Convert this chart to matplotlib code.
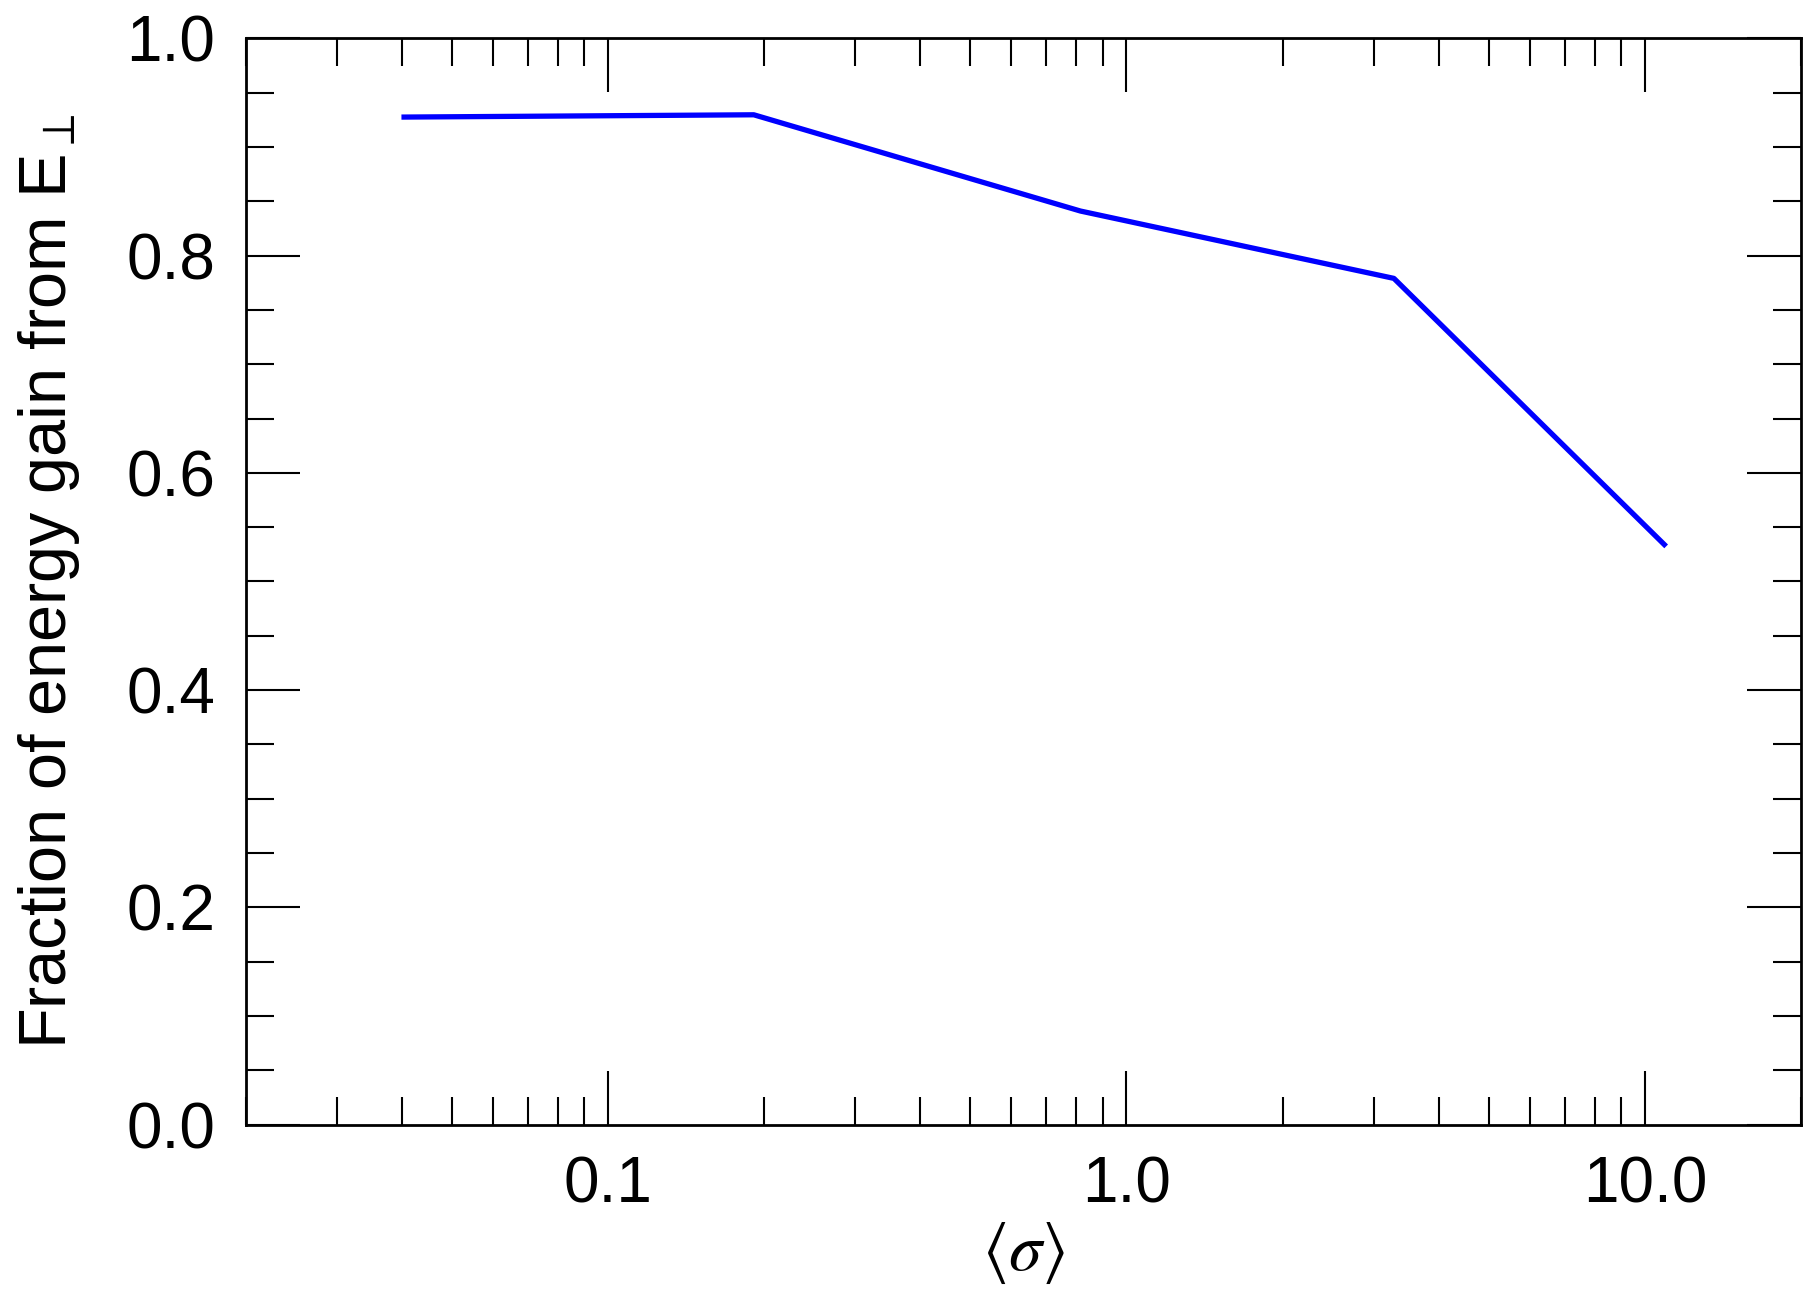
import matplotlib
matplotlib.use("Agg")
import matplotlib.pyplot as plt
from matplotlib.ticker import LogLocator, MultipleLocator, FixedLocator, FixedFormatter

# mean magnetization vs fraction of energy gain from E_perp
sigma = [0.0404, 0.191, 0.815, 3.28, 10.9]
frac = [0.9275, 0.9296, 0.841, 0.779, 0.534]

xticks = [0.1, 1.0, 10.0]
xtick_labels = ["0.1", "1.0", "10.0"]

plt.rcParams["font.family"] = ["Liberation Sans", "DejaVu Sans"]
plt.rcParams["mathtext.fontset"] = "stix"

fig = plt.figure(figsize=(18.18, 12.9), dpi=100)
ax = fig.add_axes([0.1352, 0.1282, 0.8554, 0.8421])

ax.plot(sigma, frac, color="#0000ff", linewidth=3.8)

ax.set_xscale("log")
ax.set_xlim(0.02, 20)
ax.set_ylim(0, 1.0)

ax.xaxis.set_major_locator(FixedLocator(xticks))
ax.xaxis.set_major_formatter(FixedFormatter(xtick_labels))
ax.xaxis.set_minor_locator(LogLocator(base=10, subs=range(2, 10)))
ax.xaxis.set_minor_formatter(plt.NullFormatter())
ax.yaxis.set_major_locator(MultipleLocator(0.2))
ax.yaxis.set_minor_locator(MultipleLocator(0.05))
ax.yaxis.set_major_formatter(plt.FuncFormatter(lambda v, p: f"{v:.1f}"))

ax.tick_params(which="both", direction="in", top=True, right=True, width=1.5)
ax.tick_params(which="major", length=39, pad=22, labelsize=46)
ax.tick_params(which="minor", length=20)
for s in ax.spines.values():
    s.set_linewidth(2)

ax.set_xlabel(r"$\langle\sigma\rangle$", fontsize=48, labelpad=4)
ax.set_ylabel(r"Fraction of energy gain from E$_\perp$", fontsize=48, labelpad=32)

fig.savefig("out.png", dpi=100)
